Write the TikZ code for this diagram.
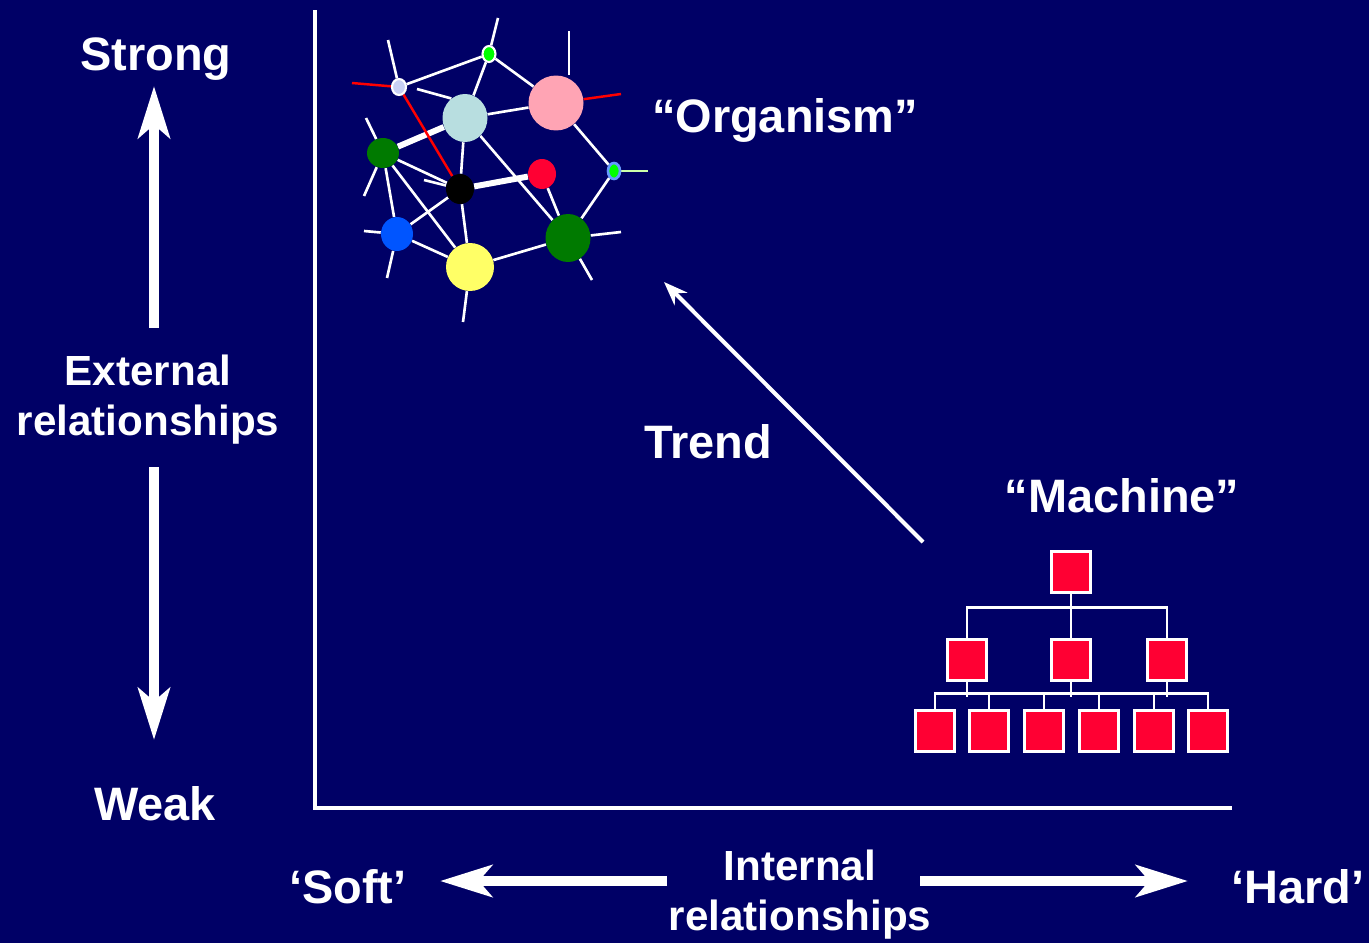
\documentclass[tikz,border=0pt]{standalone}
\usepackage{fontspec}
\setmainfont{Liberation Sans}
\usetikzlibrary{shapes.geometric,arrows.meta,calc}
\definecolor{bgnavy}{RGB}{0,0,102}
\definecolor{boxred}{HTML}{FF0033}
\definecolor{lavender}{HTML}{C8D0F4}
\definecolor{lime}{HTML}{00FF00}
\definecolor{paleteal}{HTML}{B8DEE0}
\definecolor{pinkish}{HTML}{FFA4B4}
\definecolor{leafgreen}{HTML}{007A00}
\definecolor{brightblue}{HTML}{0055FF}
\definecolor{paleyellow}{HTML}{FFFF66}
\definecolor{skyrim}{HTML}{6699FF}
\definecolor{palelime}{HTML}{CCFFAA}
\pgfdeclarelayer{background}
\pgfsetlayers{background,main}
\tikzset{
  big_lbl/.style = {text=white, inner sep=0pt, anchor=base, font=\bfseries\fontsize{26.7}{32}\selectfont},
  mid_lbl/.style = {text=white, inner sep=0pt, anchor=base, align=center, font=\bfseries\fontsize{24}{28}\selectfont},
  big_arrow/.style = {white, line width=5.7pt, -{Stealth[length=29.5pt, width=18pt, inset=7.5pt]}},
  trend_arrow/.style = {white, line width=2.3pt, -{Stealth[length=13.6pt, width=10.2pt, inset=4.5pt]}},
  axis_line/.style = {white, line width=2.3pt},
  net_n/.style = {ellipse, inner sep=0pt},
  net_e/.style = {white, line width=1.5pt},
  net_thick/.style = {white, line width=3.4pt},
  tree_box/.style = {rectangle, fill=boxred, draw=white, line width=1.2pt, minimum width=0.78cm, minimum height=0.82cm, inner sep=0pt},
  tree_e/.style = {white, line width=1.2pt}
}

\begin{document}
\begin{tikzpicture}[x=0.02cm, y=-0.02cm]
	\useasboundingbox (0,0) rectangle (1369,943);
	\begin{pgfonlayer}{background}
		\fill[bgnavy] (0,0) rectangle (1369,943);
	\end{pgfonlayer}

	% axes
	\coordinate (ax_top) at (315,10);
	\coordinate (ax_org) at (315,808);
	\coordinate (ax_end) at (1232,808);
	\draw[axis_line] (ax_top) -- (ax_org) -- (ax_end);

	% external relationships scale
	\node[big_lbl] (strong) at (156,70) {Strong};
	\node[mid_lbl] (ext) at (148,435) {External\\relationships};
	\node[big_lbl] (weak) at (155,820) {Weak};
	\coordinate (up_s) at (154,328);
	\coordinate (up_e) at (154,86);
	\coordinate (dn_s) at (154,467);
	\coordinate (dn_e) at (154,740);
	\draw[big_arrow] (up_s) -- (up_e);
	\draw[big_arrow] (dn_s) -- (dn_e);

	% internal relationships scale
	\node[big_lbl] (soft) at (348,903) {‘Soft’};
	\node[big_lbl] (hard) at (1298,903) {‘Hard’};
	\node[mid_lbl] (int) at (800,930) {Internal\\relationships};
	\coordinate (lf_s) at (667,881);
	\coordinate (lf_e) at (440,881);
	\coordinate (rt_s) at (920,881);
	\coordinate (rt_e) at (1188,881);
	\draw[big_arrow] (lf_s) -- (lf_e);
	\draw[big_arrow] (rt_s) -- (rt_e);

	% trend
	\node[big_lbl] (trend) at (708,458) {Trend};
	\coordinate (tr_s) at (923,542);
	\coordinate (tr_e) at (664,282);
	\draw[trend_arrow] (tr_s) -- (tr_e);

	% organism
	\node[big_lbl] (organism) at (785,132) {“Organism”};
	\node[net_n, fill=lavender, draw=white, line width=1.2pt, minimum width=0.28cm, minimum height=0.32cm] (n_lav) at (399,87) {};
	\node[net_n, fill=lime, draw=white, line width=1.2pt, minimum width=0.26cm, minimum height=0.32cm] (n_lime) at (489,54) {};
	\node[net_n, fill=paleteal, minimum width=0.9cm, minimum height=0.96cm] (n_teal) at (465,118) {};
	\node[net_n, fill=pinkish, minimum width=1.1cm, minimum height=1.1cm] (n_pink) at (556,103) {};
	\node[net_n, fill=leafgreen, minimum width=0.64cm, minimum height=0.6cm] (n_green) at (383,153) {};
	\node[net_n, fill=black, minimum width=0.56cm, minimum height=0.6cm] (n_black) at (460,189) {};
	\node[net_n, fill=boxred, minimum width=0.56cm, minimum height=0.6cm] (n_red) at (542,174) {};
	\node[net_n, fill=lime, draw=skyrim, line width=1.5pt, minimum width=0.24cm, minimum height=0.32cm] (n_dot) at (614,171) {};
	\node[net_n, fill=brightblue, minimum width=0.64cm, minimum height=0.68cm] (n_blue) at (397,234) {};
	\node[net_n, fill=paleyellow, minimum width=0.96cm, minimum height=0.96cm] (n_yellow) at (470,267) {};
	\node[net_n, fill=leafgreen, minimum width=0.9cm, minimum height=0.96cm] (n_dgreen) at (568,238) {};

	\coordinate (s_lav_up) at (388,40);
	\coordinate (s_lav_red) at (352,83);
	\coordinate (s_lime_up) at (498,18);
	\coordinate (s_teal) at (417,89);
	\coordinate (s_pink_up) at (569,31);
	\coordinate (s_pink_red) at (621,94);
	\coordinate (s_green_a) at (366,118);
	\coordinate (s_green_b) at (364,196);
	\coordinate (s_black) at (424,180);
	\coordinate (s_dot) at (648,171);
	\coordinate (s_blue_a) at (364,231);
	\coordinate (s_blue_b) at (387,278);
	\coordinate (s_yellow) at (463,322);
	\coordinate (s_dg_a) at (621,232);
	\coordinate (s_dg_b) at (592,280);

	\begin{pgfonlayer}{background}
		\draw[net_e] (n_lav) -- (n_lime);
		\draw[net_e] (n_lime) -- (n_teal);
		\draw[net_e] (n_lime) -- (n_pink);
		\draw[net_e] (n_teal) -- (n_pink);
		\draw[net_e] (n_teal) -- (n_black);
		\draw[net_e] (n_teal) -- (n_dgreen);
		\draw[net_e] (n_green) -- (n_black);
		\draw[net_e] (n_green) -- (n_blue);
		\draw[net_e] (n_green) -- (n_yellow);
		\draw[net_e] (n_black) -- (n_blue);
		\draw[net_e] (n_black) -- (n_yellow);
		\draw[net_e] (n_red) -- (n_dgreen);
		\draw[net_e] (n_pink) -- (n_dot);
		\draw[net_e] (n_dot) -- (n_dgreen);
		\draw[net_e] (n_blue) -- (n_yellow);
		\draw[net_e] (n_yellow) -- (n_dgreen);
		\draw[net_thick] (n_green) -- (n_teal);
		\draw[net_thick] (n_black) -- (n_red);
		\draw[red, line width=1.4pt] (n_lav) -- (n_black);
		% loose ends
		\draw[net_e] (n_lav) -- (s_lav_up);
		\draw[red, line width=1.4pt] (n_lav) -- (s_lav_red);
		\draw[net_e] (n_lime) -- (s_lime_up);
		\draw[net_e] (n_teal.125) -- (s_teal);
		\draw[net_e] (s_pink_up) -- (s_pink_up |- n_pink.north);
		\draw[red, line width=1.4pt] (n_pink) -- (s_pink_red);
		\draw[net_e] (n_green) -- (s_green_a);
		\draw[net_e] (n_green) -- (s_green_b);
		\draw[net_e] (n_black) -- (s_black);
		\draw[palelime, line width=1.4pt] (n_dot) -- (s_dot);
		\draw[net_e] (n_blue) -- (s_blue_a);
		\draw[net_e] (n_blue) -- (s_blue_b);
		\draw[net_e] (n_yellow) -- (s_yellow);
		\draw[net_e] (n_dgreen) -- (s_dg_a);
		\draw[net_e] (n_dgreen) -- (s_dg_b);
	\end{pgfonlayer}

	% machine
	\node[big_lbl] (machine) at (1122,512) {“Machine”};
	\node[tree_box] (m_top) at (1071,572) {};
	\foreach \i/\x in {1/967, 2/1071, 3/1167}
		\node[tree_box] (m_mid\i) at (\x,660) {};
	\foreach \i/\x in {1/935, 2/989, 3/1044, 4/1099, 5/1154, 6/1208}
		\node[tree_box] (m_bot\i) at (\x,731) {};
	\draw[tree_e] (m_top) -- (m_mid2);
	\draw[tree_e] (m_mid1.north) -- ++(0,-31) -| (m_mid3.north);
	\draw[tree_e] (m_bot1.north) -- ++(0,-16) -| (m_bot6.north);
	\foreach \i in {2,...,5}
		\draw[tree_e] (m_bot\i.north) -- ++(0,-16);
	\foreach \i in {1,2,3}
		\draw[tree_e] (m_mid\i.south) -- ++(0,15);
\end{tikzpicture}
\end{document}
